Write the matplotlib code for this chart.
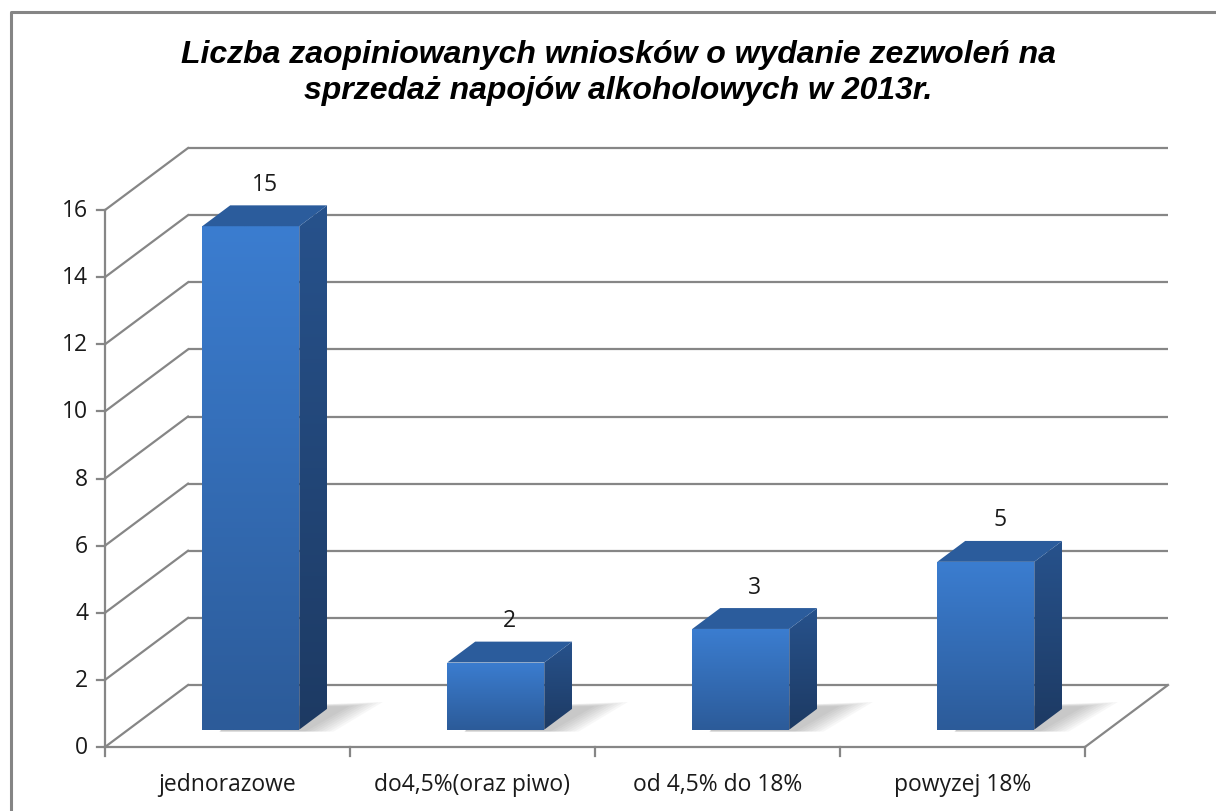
import numpy as np
import matplotlib
matplotlib.use("Agg")
import matplotlib.pyplot as plt
from matplotlib.patches import Polygon
from matplotlib.colors import LinearSegmentedColormap

# ---- data ----
categories = ["jednorazowe", "do4,5%(oraz piwo)", "od 4,5% do 18%", "powyzej 18%"]
values = [15, 2, 3, 5]
y_ticks = [0, 2, 4, 6, 8, 10, 12, 14, 16]
title = "Liczba zaopiniowanych wniosków o wydanie zezwoleń na\nsprzedaż napojów alkoholowych w 2013r."

# ---- layout (pixels) ----
W, H = 1216, 812
X0, Y0 = 105, 748        # front-left floor corner
CAT_W = 245              # pixels per category
UNIT = 33.56             # pixels per value unit
DX, DY = 83, 62          # depth offset of back wall
D0, D1 = 0.28, 0.617     # bar depth range
HALF_W = 0.198           # bar half width (category units)
VMAX = 16
LBL_FONT = "Open Sans"
LBL_SIZE = 16.5

fig = plt.figure(figsize=(W / 100, H / 100), dpi=100)
ax = fig.add_axes([0, 0, 1, 1])
ax.set_axis_off()
xlim = (-X0 / CAT_W, (W - X0) / CAT_W)
ylim = ((Y0 - H) / UNIT, Y0 / UNIT)

DXc, DYv = DX / CAT_W, DY / UNIT
n = len(categories)


def P(x, v, d):
    return (x + d * DXc, v + d * DYv)


grid_c = "#868686"
lw = 1.6
# back wall gridlines and left wall lines
for v in y_ticks:
    a, b = P(0, v, 1), P(n, v, 1)
    ax.plot([a[0], b[0]], [a[1], b[1]], color=grid_c, lw=lw, zorder=1, solid_capstyle="butt")
    a, b = P(0, v, 0), P(0, v, 1)
    ax.plot([a[0], b[0]], [a[1], b[1]], color=grid_c, lw=lw, zorder=1)
    ax.plot([-8 / CAT_W, 0], [v, v], color=grid_c, lw=lw, zorder=1)
    ax.text(-17 / CAT_W, v, str(v), ha="right", va="center", fontsize=LBL_SIZE,
            family=LBL_FONT, color="#1a1a1a")

# front axis line, floor front & right edges
ax.plot([0, 0], [0, VMAX], color=grid_c, lw=lw, zorder=1)
ax.plot([0, n], [0, 0], color=grid_c, lw=lw, zorder=1)
a, b = P(n, 0, 0), P(n, 0, 1)
ax.plot([a[0], b[0]], [a[1], b[1]], color=grid_c, lw=lw, zorder=1)
for i in range(n + 1):
    ax.plot([i, i], [0, -9 / UNIT], color=grid_c, lw=lw, zorder=1)
for i, c in enumerate(categories):
    ax.text(i + 0.5, -37 / UNIT, c, ha="center", va="center", fontsize=LBL_SIZE,
            family=LBL_FONT, color="#1a1a1a")

front_cmap = LinearSegmentedColormap.from_list("f", ["#2c5b99", "#3b7dd0"])
side_cmap = LinearSegmentedColormap.from_list("s", ["#1d3a63", "#27528c"])
top_color = "#2b5c9c"
grad = np.linspace(0, 1, 256).reshape(-1, 1)


def grad_poly(pts, cmap, z):
    poly = Polygon(pts, closed=True, facecolor="none", edgecolor="none", zorder=z)
    ax.add_patch(poly)
    xs = [p[0] for p in pts]
    ys = [p[1] for p in pts]
    im = ax.imshow(grad, cmap=cmap, origin="lower", aspect="auto",
                   extent=(min(xs), max(xs), min(ys), max(ys)), zorder=z,
                   interpolation="bilinear")
    im.set_clip_path(poly)


for i, v in enumerate(values):
    xl, xr = i + 0.5 - HALF_W, i + 0.5 + HALF_W
    # soft shadow on floor
    for k in range(8):
        grow = (8 - k) * 4 / CAT_W
        sh = [P(xl + 0.08, 0, D0 - 0.03), P(xr + 0.02 + grow, 0, D0 - 0.03),
              P(xr + 0.06 + grow, 0, D1 + 0.03 + (8 - k) * 0.01), P(xl + 0.08, 0, D1 + 0.03)]
        ax.add_patch(Polygon(sh, closed=True, facecolor="#303030", edgecolor="none",
                             alpha=0.035, zorder=2))
    front = [P(xl, 0, D0), P(xr, 0, D0), P(xr, v, D0), P(xl, v, D0)]
    side = [P(xr, 0, D0), P(xr, 0, D1), P(xr, v, D1), P(xr, v, D0)]
    top = [P(xl, v, D0), P(xr, v, D0), P(xr, v, D1), P(xl, v, D1)]
    grad_poly(front, front_cmap, 3)
    grad_poly(side, side_cmap, 3)
    ax.add_patch(Polygon(top, closed=True, facecolor=top_color, edgecolor="none", zorder=3))
    lx, ly = P(i + 0.5, v, (D0 + D1) / 2)
    ax.text(lx, ly + 32 / UNIT, str(v), ha="center", va="center", fontsize=LBL_SIZE,
            family=LBL_FONT, color="#1a1a1a", zorder=4)

ax.set_xlim(*xlim)
ax.set_ylim(*ylim)

# title
fig.text(618 / W, 1 - 73 / H, title, ha="center", va="center", fontsize=23,
         style="italic", weight="bold", family="Liberation Sans", color="#000000",
         linespacing=1.28)

# chart frame
fig.add_artist(plt.Line2D([10.5 / W, 10.5 / W, 1.0], [0, 1 - 13 / H, 1 - 13 / H],
                          transform=fig.transFigure, color="#858585", lw=2.2))

fig.savefig("out.png", dpi=100)
